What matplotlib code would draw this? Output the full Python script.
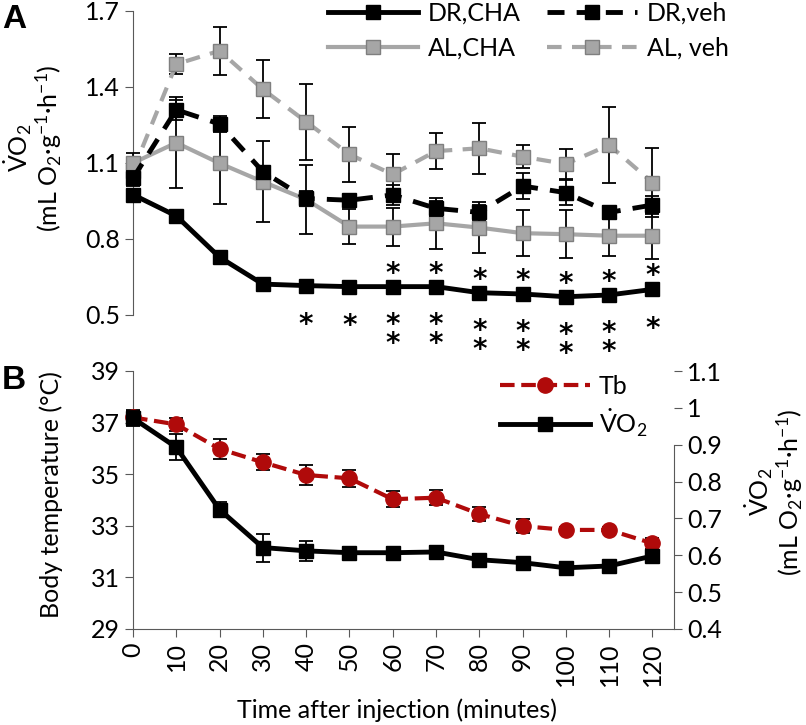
import matplotlib
matplotlib.use("Agg")
import matplotlib.pyplot as plt

plt.rcParams["font.family"] = ["Lato", "DejaVu Sans"]
plt.rcParams["mathtext.fontset"] = "custom"
plt.rcParams["mathtext.rm"] = "Lato"
plt.rcParams["mathtext.it"] = "Lato:italic"
plt.rcParams["mathtext.bf"] = "Lato:bold"

# ---- data -------------------------------------------------------------
time = [0, 10, 20, 30, 40, 50, 60, 70, 80, 90, 100, 110, 120]

# panel A: VO2 (mL O2 g-1 h-1)
dr_cha = [0.975, 0.891, 0.728, 0.622, 0.616, 0.612, 0.612, 0.612, 0.588, 0.583, 0.572, 0.579, 0.601]
dr_cha_err = [0.02, 0.02, 0.01, 0.02, 0.01, 0.01, 0.01, 0.01, 0.01, 0.01, 0.01, 0.01, 0.01]
al_cha = [1.10, 1.18, 1.099, 1.026, 0.956, 0.849, 0.849, 0.862, 0.845, 0.823, 0.819, 0.813, 0.813]
al_cha_err = [0.04, 0.18, 0.16, 0.16, 0.137, 0.07, 0.075, 0.10, 0.10, 0.09, 0.095, 0.08, 0.09]
dr_veh = [1.04, 1.31, 1.254, 1.066, 0.96, 0.953, 0.974, 0.921, 0.905, 1.009, 0.983, 0.905, 0.934]
dr_veh_err = [0.03, 0.04, 0.03, 0.02, 0.03, 0.02, 0.04, 0.03, 0.03, 0.05, 0.05, 0.025, 0.035]
al_veh = [1.07, 1.49, 1.543, 1.391, 1.263, 1.134, 1.055, 1.147, 1.158, 1.125, 1.096, 1.171, 1.023]
al_veh_err = [0.05, 0.04, 0.095, 0.115, 0.15, 0.11, 0.08, 0.07, 0.10, 0.046, 0.06, 0.15, 0.135]

# significance marks: number of asterisks above / below DR,CHA
stars_above = [0, 0, 0, 0, 0, 0, 1, 1, 1, 1, 1, 1, 1]
stars_below = [0, 0, 0, 0, 1, 1, 2, 2, 2, 2, 2, 2, 1]

# panel B: body temperature and VO2 of DR,CHA
tb = [37.2, 36.93, 35.98, 35.46, 34.97, 34.84, 34.03, 34.09, 33.46, 32.99, 32.84, 32.84, 32.32]
tb_err = [0.3, 0.26, 0.39, 0.31, 0.39, 0.32, 0.3, 0.29, 0.27, 0.28, 0.1, 0.1, 0.2]
vo2 = [0.972, 0.893, 0.724, 0.621, 0.612, 0.607, 0.607, 0.609, 0.588, 0.580, 0.566, 0.571, 0.598]
vo2_err = [0.02, 0.035, 0.02, 0.038, 0.027, 0.015, 0.015, 0.015, 0.015, 0.01, 0.01, 0.01, 0.01]

# ---- styling ----------------------------------------------------------
GRAY = "#A6A6A6"
GRAY_EDGE = "#7F7F7F"
RED = "#B00A0A"
SPINE = "#595959"
VO2_LABEL = r"$\dot{\mathrm{V}}\mathrm{O}_2$"
VO2_UNITS = r"(mL O$_2$·g$^{-1}$·h$^{-1}$)"
FS = 18

W, H = 806, 725
fig = plt.figure(figsize=(W / 100, H / 100), dpi=100)
ax_a = fig.add_axes([133 / W, 1 - 315 / H, 541 / W, 304 / H])
ax_b = fig.add_axes([133 / W, 1 - 629 / H, 541 / W, 258 / H])
ax_b2 = ax_b.twinx()


def draw(ax, y, err, color, ls, mfc, mec, label, lw=3.5, marker="s", ms=10.5, dashes=None, z=3):
    ax.errorbar(time, y, yerr=err, fmt="none", ecolor="black", elinewidth=1.3,
                capsize=5, capthick=1.3, zorder=z - 0.5, clip_on=False)
    kw = dict(color=color, ls=ls, lw=lw, marker=marker, ms=ms, mfc=mfc, mec=mec,
              mew=1, label=label, zorder=z, clip_on=False)
    if dashes is not None:
        kw["dashes"] = dashes
    (line,) = ax.plot(time, y, **kw)
    return line


def stars(ax, t, v, n, dy):
    # n stacked asterisks, ink centred dy points from the data point
    ax.annotate("\n".join(["*"] * n), xy=(t, v), xytext=(0, dy - 5.7),
                textcoords="offset points", ha="center", va="center",
                fontsize=20, fontweight="bold", family="DejaVu Sans",
                linespacing=0.6, annotation_clip=False)


# ---- panel A ----------------------------------------------------------
h1 = draw(ax_a, dr_cha, dr_cha_err, "black", "-", "black", "black", "DR,CHA", z=6)
h2 = draw(ax_a, al_cha, al_cha_err, GRAY, "-", GRAY, GRAY_EDGE, "AL,CHA", lw=3, z=4)
h3 = draw(ax_a, dr_veh, dr_veh_err, "black", "--", "black", "black", "DR,veh", dashes=(3.5, 2.5), z=5)
h4 = draw(ax_a, al_veh, al_veh_err, GRAY, "--", GRAY, GRAY_EDGE, "AL, veh", lw=3, dashes=(3.5, 2.5), z=3)

for t, v, n_up, n_dn in zip(time, dr_cha, stars_above, stars_below):
    if n_up:
        stars(ax_a, t, v, n_up, 15)
    if n_dn:
        stars(ax_a, t, v, n_dn, -23 - 5.75 * (n_dn - 1))

ax_a.set_xlim(0, 125)
ax_a.set_ylim(0.5, 1.7)
ax_a.set_yticks([0.5, 0.8, 1.1, 1.4, 1.7])
ax_a.set_xticks([])
for side in ("top", "right", "bottom"):
    ax_a.spines[side].set_visible(False)
ax_a.spines["left"].set_color(SPINE)
ax_a.tick_params(axis="y", direction="out", length=6, color=SPINE, labelsize=FS)
ax_a.set_ylabel(VO2_LABEL + "\n" + VO2_UNITS, fontsize=FS, ha="center", va="center",
                linespacing=1.0)
ax_a.yaxis.set_label_coords(-0.185, 0.55)

ax_a.legend(handles=[h1, h2, h3, h4], ncol=2, loc="upper left",
            bbox_to_anchor=(328 / W, 1 - 2 / H), bbox_transform=fig.transFigure,
            frameon=False, fontsize=FS, handlelength=3.6, handletextpad=0.4,
            columnspacing=1.05, labelspacing=0.45, borderpad=0, borderaxespad=0)

# ---- panel B ----------------------------------------------------------
hb1 = draw(ax_b, tb, tb_err, RED, "--", RED, RED, "Tb", lw=3, marker="o", ms=11, dashes=(3.5, 1.6), z=4)
hb2 = draw(ax_b2, vo2, vo2_err, "black", "-", "black", "black", VO2_LABEL, z=4)

ax_b.set_xlim(0, 125)
ax_b.set_ylim(29, 39)
ax_b.set_yticks([29, 31, 33, 35, 37, 39])
ax_b.set_xticks(time)
ax_b.set_xticklabels([str(t) for t in time], rotation=90)
ax_b2.set_ylim(0.4, 1.1)
ax_b2.set_yticks([0.4, 0.5, 0.6, 0.7, 0.8, 0.9, 1.0, 1.1])
ax_b2.set_yticklabels(["0.4", "0.5", "0.6", "0.7", "0.8", "0.9", "1", "1.1"])

for a in (ax_b, ax_b2):
    a.spines["top"].set_visible(False)
    for side in ("left", "right", "bottom"):
        a.spines[side].set_color(SPINE)
    a.tick_params(direction="out", length=6, color=SPINE, labelsize=FS)
ax_b.spines["right"].set_visible(False)
ax_b2.spines["left"].set_visible(False)
ax_b2.spines["bottom"].set_visible(False)
ax_b2.spines["right"].set_bounds(0.4, 0.9)

ax_b.set_ylabel("Body temperature (°C)", fontsize=FS, ha="center", va="center")
ax_b.yaxis.set_label_coords(-0.152, 0.52)
ax_b2.set_ylabel(VO2_LABEL + "\n" + VO2_UNITS, fontsize=FS, ha="center", va="center",
                 rotation=90, linespacing=1.0)
ax_b2.yaxis.set_label_coords(1.185, 0.53)
ax_b.set_xlabel("Time after injection (minutes)", fontsize=FS, ha="center", va="center")
ax_b.xaxis.set_label_coords(0.488, -0.314)

ax_b.legend(handles=[hb1, hb2], loc="upper left",
            bbox_to_anchor=(500 / W, 1 - 375 / H), bbox_transform=fig.transFigure,
            frameon=False, fontsize=FS, handlelength=3.6, handletextpad=0.35,
            labelspacing=0.35, borderpad=0, borderaxespad=0)

# panel letters
fig.text(2 / W, 1 - 20 / H, "A", fontsize=24, fontweight="bold",
         family="Liberation Sans", va="center", ha="left")
fig.text(2 / W, 1 - 380 / H, "B", fontsize=24, fontweight="bold",
         family="Liberation Sans", va="center", ha="left")

fig.savefig("out.png", dpi=100)
